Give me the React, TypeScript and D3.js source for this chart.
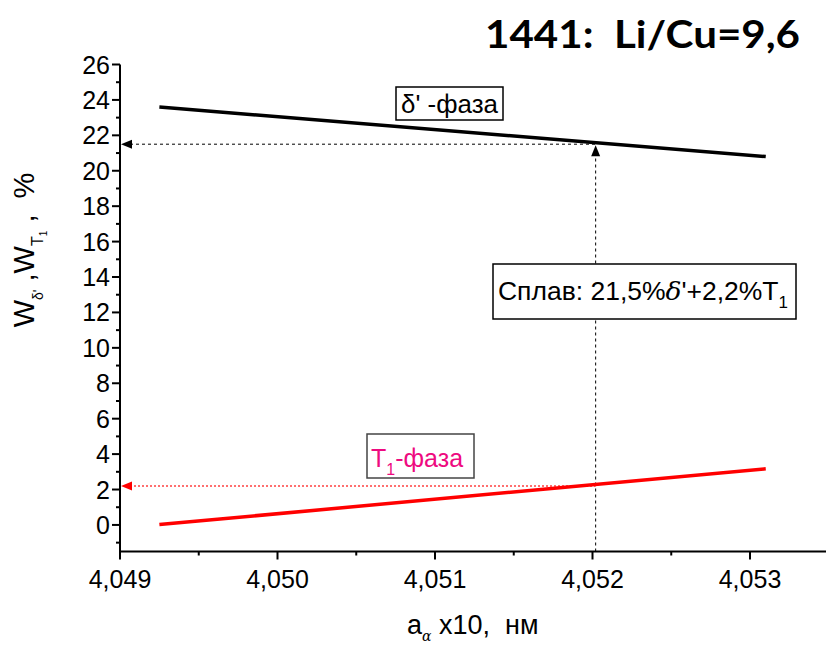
import React from 'react';
import * as d3 from 'd3';

// values
const xTicks = [4.049, 4.05, 4.051, 4.052, 4.053];
const xTickLabels = ['4,049', '4,050', '4,051', '4,052', '4,053'];
const yTicks = [0, 2, 4, 6, 8, 10, 12, 14, 16, 18, 20, 22, 24, 26];
const deltaX = [4.04925, 4.0531];
const deltaY = [23.6, 20.8];
const t1X = [4.04925, 4.0531];
const t1Y = [0.02, 3.17];
const alloyX = 4.05202;
const alloyDelta = 21.5;
const alloyT1 = 2.2;

const W = 826;
const H = 647;
const font = 'Liberation Sans, Arial, sans-serif';
const pink = '#ee0a80';
const sp = '\u00a0';

const App = () => {
  const x = d3.scaleLinear().domain([4.049, 4.0535]).range([120, 828.75]);
  const y = d3.scaleLinear().domain([-1.5, 26]).range([551.5, 64.5]);

  const line = d3
    .line<[number, number]>()
    .x((d) => x(d[0]))
    .y((d) => y(d[1]));

  const deltaPts = deltaX.map((v, i) => [v, deltaY[i]] as [number, number]);
  const t1Pts = t1X.map((v, i) => [v, t1Y[i]] as [number, number]);

  const xMinor = d3.range(4.0495, 4.0535, 0.001);
  const yMinor = d3.range(-1, 26, 2);

  const x0 = x(4.049);
  const yBottom = y(-1.5);

  return (
    <svg width={W} height={H} style={{ display: 'block', position: 'absolute', left: 0, top: 0 }}>
      <rect width={W} height={H} fill="white" />

      {/* title */}
      <text x={485} y={48} fontFamily="Lato, sans-serif" fontWeight="bold" fontSize={38}
        textLength={315} lengthAdjust="spacingAndGlyphs">{`1441:${sp}${sp}Li/Cu=9,6`}</text>

      {/* y axis */}
      <line x1={x0} x2={x0} y1={y(26)} y2={yBottom + 1} stroke="black" strokeWidth={2} />
      {yTicks.map((t) => (
        <g key={t}>
          <line x1={x0 - 8} x2={x0} y1={y(t)} y2={y(t)} stroke="black" strokeWidth={2} />
          <text x={110} y={y(t) + 9} textAnchor="end" fontFamily={font} fontSize={25}>{t}</text>
        </g>
      ))}
      {yMinor.map((t) => (
        <line key={t} x1={x0 - 4} x2={x0} y1={y(t)} y2={y(t)} stroke="black" strokeWidth={2} />
      ))}

      {/* x axis */}
      <line x1={x0 - 1} x2={W} y1={yBottom} y2={yBottom} stroke="black" strokeWidth={2} />
      {xTicks.map((t, i) => (
        <g key={t}>
          <line x1={x(t)} x2={x(t)} y1={yBottom} y2={yBottom + 8} stroke="black" strokeWidth={2} />
          <text x={x(t)} y={yBottom + 36} textAnchor="middle" fontFamily={font} fontSize={25}>{xTickLabels[i]}</text>
        </g>
      ))}
      {xMinor.map((t) => (
        <line key={t} x1={x(t)} x2={x(t)} y1={yBottom} y2={yBottom + 4} stroke="black" strokeWidth={2} />
      ))}

      {/* guide lines */}
      <line x1={x0 + 10} x2={x(alloyX)} y1={y(alloyDelta)} y2={y(alloyDelta)} stroke="black" strokeWidth={1} strokeDasharray="3,3" />
      <path d={`M${x0 + 1},${y(alloyDelta)} l11,-4.5 l0,9 z`} fill="black" />
      <line x1={x(alloyX)} x2={x(alloyX)} y1={yBottom} y2={y(alloyDelta) + 10} stroke="black" strokeWidth={1} strokeDasharray="3,3" />
      <path d={`M${x(alloyX)},${y(alloyDelta) + 1} l-4.5,11 l9,0 z`} fill="black" />
      <line x1={x0 + 10} x2={x(alloyX)} y1={y(alloyT1)} y2={y(alloyT1)} stroke="#ff4040" strokeWidth={1.5} strokeDasharray="2,2" />
      <path d={`M${x0 + 1},${y(alloyT1)} l11,-4.5 l0,9 z`} fill="red" />

      {/* phase lines */}
      <path d={line(deltaPts) ?? ''} fill="none" stroke="black" strokeWidth={3.5} />
      <path d={line(t1Pts) ?? ''} fill="none" stroke="red" strokeWidth={3.5} />

      {/* labels */}
      <rect x={396} y={87} width={107} height={33} fill="white" stroke="black" strokeWidth={1.5} />
      <text x={401} y={113} fontFamily={font} fontSize={25} textLength={97} lengthAdjust="spacingAndGlyphs">δ'{sp}-фаза</text>

      <rect x={493} y={264} width={303} height={55} fill="white" stroke="black" strokeWidth={1.5} />
      <text x={498} y={300} fontFamily={font} fontSize={25} textLength={290} lengthAdjust="spacingAndGlyphs">
        Сплав:{sp}21,5%<tspan fontFamily="DejaVu Serif, serif" fontStyle="italic">δ</tspan>'+2,2%T<tspan fontSize={16} dy={8}>1</tspan>
      </text>

      <rect x={367} y={434} width={107} height={44} fill="white" stroke="#444" strokeWidth={1.5} />
      <text x={371} y={467} fontFamily={font} fontSize={25} fill={pink}>
        T<tspan fontSize={16} dy={8}>1</tspan><tspan dy={-8}>-фаза</tspan>
      </text>

      {/* axis titles */}
      <text transform="translate(34,250) rotate(-90)" textAnchor="middle" fontFamily={font} fontSize={29}>
        W<tspan fontSize={14} dy={9}>δ'</tspan><tspan dy={-9}>{`${sp},W`}</tspan><tspan fontSize={16} dy={9}>T</tspan><tspan fontSize={10} dy={4}>1</tspan><tspan fontSize={29} dy={-13}>{`${sp},${sp}${sp}%`}</tspan>
      </text>
      <text x={407} y={634} fontFamily={font} fontSize={27}>
        a<tspan fontSize={14} dy={7} fontFamily="DejaVu Serif, serif" fontStyle="italic">α</tspan><tspan dy={-7}>{`${sp}x10,${sp}${sp}нм`}</tspan>
      </text>
    </svg>
  );
};

export default App;
